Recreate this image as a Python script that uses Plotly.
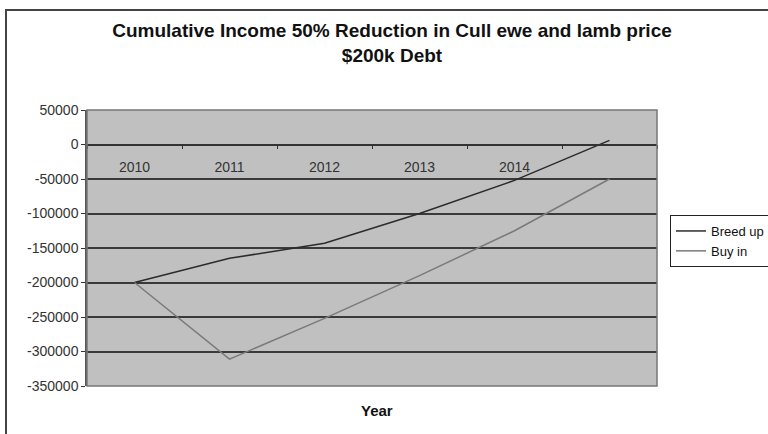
import plotly.graph_objects as go

years = [2010, 2011, 2012, 2013, 2014, 2015]
year_labels = ["2010", "2011", "2012", "2013", "2014", ""]
breed_up = [-200000, -165000, -143000, -100000, -52000, 6000]
buy_in = [-200000, -311000, -252000, -190000, -125000, -50000]
y_ticks = [50000, 0, -50000, -100000, -150000, -200000, -250000, -300000, -350000]
y_tick_labels = [str(v) for v in y_ticks]

fig = go.Figure()
fig.add_trace(go.Scatter(x=years, y=breed_up, mode="lines", name="Breed up",
                         line=dict(color="#2b2b2b", width=1.5)))
fig.add_trace(go.Scatter(x=years, y=buy_in, mode="lines", name="Buy in",
                         line=dict(color="#7a7a7a", width=1.5)))

L, R, T, B = 87, 111, 110, 48
W, H = 768, 434
pw, ph = W - L - R, H - T - B
fig.update_layout(
    width=W, height=H,
    margin=dict(l=L, r=R, t=T, b=B, pad=0, autoexpand=False),
    paper_bgcolor="white",
    plot_bgcolor="#c0c0c0",
    font=dict(family="Liberation Sans, Arial, sans-serif", color="#222"),
    title=dict(text="<b>Cumulative Income 50% Reduction in Cull ewe and lamb price<br>$200k Debt</b>",
               x=392 / W, xanchor="center", y=1 - 37 / H, yanchor="top",
               font=dict(size=19, color="#111")),
    showlegend=True,
    legend=dict(x=(670 - L) / pw, xanchor="left", y=(H - B - 215) / ph, yanchor="top",
                bgcolor="white", bordercolor="#222", borderwidth=1,
                font=dict(size=13, color="#111"), tracegroupgap=0,
                itemwidth=30),
    xaxis=dict(range=[2009.5, 2015.5], tickvals=years, ticktext=year_labels,
               showgrid=False, zeroline=False, showline=True, linecolor="#333", linewidth=1.5,
               anchor="free", position=1 - 50000 / 400000,
               ticks="", tickfont=dict(size=14, color="#333"), ticklabelstandoff=10,
               minor=dict(tick0=2009.5, dtick=1, ticks="outside", ticklen=4, tickcolor="#333")),
    yaxis=dict(range=[-350000, 50000], tickvals=y_ticks, ticktext=y_tick_labels,
               showgrid=True, gridcolor="#3a3a3a", gridwidth=1.5, zeroline=False,
               showline=True, linecolor="#555", linewidth=1.5,
               ticks="outside", ticklen=4, tickcolor="#333",
               tickfont=dict(size=14, color="#333")),
    annotations=[dict(text="<b>Year</b>", x=(377 - L) / pw, y=(H - B - 410) / ph,
                      xref="paper", yref="paper", showarrow=False,
                      xanchor="center", yanchor="middle",
                      font=dict(size=15, color="#111"))],
    shapes=[
        dict(type="rect", xref="paper", yref="paper",
             x0=(6 - L) / pw, x1=(775 - L) / pw, y0=(H - B - 440) / ph, y1=(H - B - 10) / ph,
             line=dict(color="#444", width=2), fillcolor="rgba(0,0,0,0)", layer="below"),
        dict(type="rect", xref="paper", yref="paper", x0=0, x1=1, y0=0, y1=1,
             line=dict(color="#777", width=1.5), fillcolor="rgba(0,0,0,0)"),
    ],
)
fig.write_html("out.html")
